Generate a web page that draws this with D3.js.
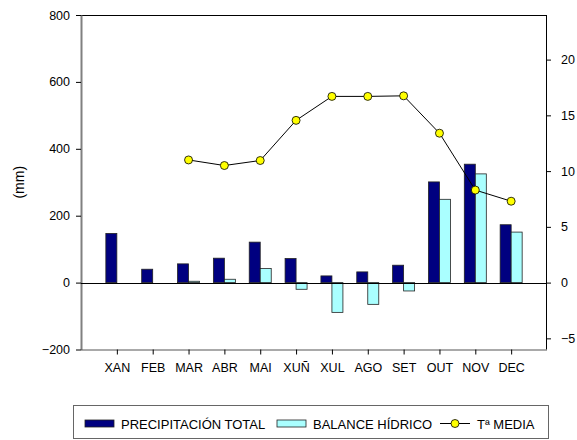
<!DOCTYPE html>
<html><head><meta charset="utf-8">
<script src="https://cdn.jsdelivr.net/npm/d3@7"></script>
<style>body{margin:0;background:#fff}svg{display:block;font-family:"Liberation Sans",Arial,sans-serif}</style>
</head><body>
<svg id="c" width="577" height="440"></svg>
<script>
const months = ["XAN","FEB","MAR","ABR","MAI","XUÑ","XUL","AGO","SET","OUT","NOV","DEC"];
const precip = [147,40,56,73,121,72,20,32,52,301,354,173];
const balance = [0,0,4,10,42,-20,-89,-65,-25,249,325,151];
const temp = [null,null,11.0,10.5,10.95,14.55,16.7,16.7,16.75,13.4,8.3,7.3];
const leftTicks = [-200,0,200,400,600,800];
const rightTicks = [-5,0,5,10,15,20];
const legendLabels = ["PRECIPITACIÓN TOTAL","BALANCE HÍDRICO","Tª MEDIA"];

const svg = d3.select("#c");
const L=81, R=547, T=15, B=349.5;
const FS=12.5;
const x = d3.scalePoint().domain(months).range([L,R]).padding(1);
const y = d3.scaleLinear().domain([-200,800]).range([B,T]);
const y2 = d3.scaleLinear().domain([-6,24]).range([B,T]);
const bw = 11;

// frame
svg.append("line").attr("x1",L).attr("x2",R).attr("y1",T+0.5).attr("y2",T+0.5).attr("stroke","#000");
svg.append("line").attr("x1",R-0.5).attr("x2",R-0.5).attr("y1",T).attr("y2",B).attr("stroke","#000");

// left axis
const ga = svg.append("g").attr("transform",`translate(${L},0)`)
  .call(d3.axisLeft(y).tickValues(leftTicks).tickSize(5).tickSizeOuter(0).tickPadding(6));
ga.select(".domain").attr("stroke","#808080").attr("stroke-width",2);
ga.selectAll(".tick line").attr("stroke","#000");
ga.selectAll("text").attr("font-size",FS).attr("fill","#000").attr("font-family","Liberation Sans, Arial");

// right axis
const gr = svg.append("g").attr("transform",`translate(${R},0)`)
  .call(d3.axisRight(y2).tickValues(rightTicks).tickSize(4).tickSizeOuter(0).tickPadding(10));
gr.select(".domain").remove();
gr.selectAll(".tick line").attr("stroke","#000");
gr.selectAll("text").attr("font-size",FS).attr("fill","#000").attr("font-family","Liberation Sans, Arial");

// bottom axis
const gb = svg.append("g").attr("transform",`translate(0,${B})`)
  .call(d3.axisBottom(x).tickSize(5).tickSizeOuter(0).tickPadding(9));
gb.select(".domain").attr("d",`M${L},0.5H${R}`).attr("stroke","#555");
gb.selectAll(".tick line").attr("stroke","#000");
gb.selectAll("text").attr("font-size",FS).attr("fill","#000").attr("font-family","Liberation Sans, Arial");

// y title
svg.append("text").attr("transform",`translate(24,${(T+B)/2}) rotate(-90)`)
  .attr("text-anchor","middle").attr("font-size",14).text("(mm)");

// bars
svg.append("g").selectAll("rect").data(months).join("rect")
  .attr("x",d=>x(d)-bw).attr("width",bw)
  .attr("y",(d,i)=>y(Math.max(0,precip[i]))).attr("height",(d,i)=>Math.abs(y(precip[i])-y(0)))
  .attr("fill","#000080").attr("stroke","#222").attr("stroke-width",0.8);
svg.append("g").selectAll("rect").data(months).join("rect")
  .filter((d,i)=>balance[i]!==0)
  .attr("x",d=>x(d)).attr("width",bw)
  .attr("y",d=>y(Math.max(0,balance[months.indexOf(d)])))
  .attr("height",d=>Math.abs(y(balance[months.indexOf(d)])-y(0)))
  .attr("fill","#aaffff").attr("stroke","#222").attr("stroke-width",0.8);

// zero line
svg.append("line").attr("x1",L).attr("x2",R).attr("y1",Math.round(y(0))+0.5).attr("y2",Math.round(y(0))+0.5).attr("stroke","#000");

// temperature line
const pts = months.map((m,i)=>({m,v:temp[i]})).filter(d=>d.v!==null);
svg.append("path").datum(pts).attr("fill","none").attr("stroke","#000").attr("stroke-width",1)
  .attr("d",d3.line().x(d=>x(d.m)).y(d=>y2(d.v)));
svg.append("g").selectAll("circle").data(pts).join("circle")
  .attr("cx",d=>x(d.m)).attr("cy",d=>y2(d.v)).attr("r",4)
  .attr("fill","#ffff00").attr("stroke","#000").attr("stroke-width",0.8);

// legend
const lg = svg.append("g").attr("font-size",13);
lg.append("rect").attr("x",73.5).attr("y",405.5).attr("width",475).attr("height",33)
  .attr("fill","none").attr("stroke","#666");
lg.append("rect").attr("x",85).attr("y",420).attr("width",29).attr("height",7).attr("fill","#000080").attr("stroke","#222").attr("stroke-width",0.8);
lg.append("text").attr("x",121).attr("y",428.5).text(legendLabels[0]);
lg.append("rect").attr("x",277).attr("y",420).attr("width",29).attr("height",7).attr("fill","#aaffff").attr("stroke","#222").attr("stroke-width",0.8);
lg.append("text").attr("x",313).attr("y",428.5).text(legendLabels[1]);
lg.append("line").attr("x1",440).attr("x2",470).attr("y1",423.5).attr("y2",423.5).attr("stroke","#000");
lg.append("circle").attr("cx",455).attr("cy",423.5).attr("r",4).attr("fill","#ffff00").attr("stroke","#000").attr("stroke-width",0.8);
lg.append("text").attr("x",477).attr("y",428.5).text(legendLabels[2]);
</script>
</body></html>
